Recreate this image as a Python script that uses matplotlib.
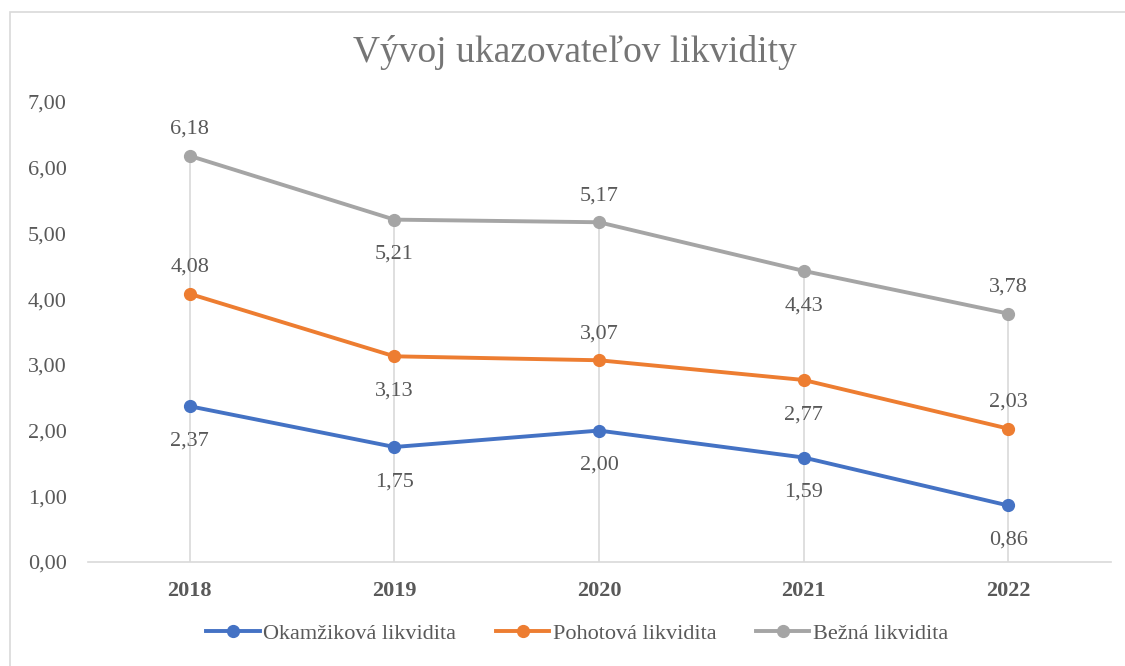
import matplotlib
matplotlib.use("Agg")
import matplotlib.pyplot as plt
from matplotlib.patches import Rectangle

years = ["2018", "2019", "2020", "2021", "2022"]
okamzikova = [2.37, 1.75, 2.00, 1.59, 0.86]
pohotova = [4.08, 3.13, 3.07, 2.77, 2.03]
bezna = [6.18, 5.21, 5.17, 4.43, 3.78]
series_names = ["Okamžiková likvidita", "Pohotová likvidita", "Bežná likvidita"]
y_ticks = [0, 1, 2, 3, 4, 5, 6, 7]

# label placement: +1 above, -1 below
pos_okam = [-1, -1, -1, -1, -1]
pos_poh = [1, -1, 1, -1, 1]
pos_bez = [1, -1, 1, -1, 1]

colors = ["#4472C4", "#ED7D31", "#A5A5A5"]
text_color = "#595959"
font = "Liberation Serif"

fig = plt.figure(figsize=(11.25, 6.66), dpi=100)
fig.patch.set_facecolor("white")
# chart border
fig.patches.append(Rectangle((10 / 1125, -0.1), 1.2, 1 - 12 / 666 + 0.1,
                             transform=fig.transFigure, fill=False,
                             edgecolor="#D9D9D9", linewidth=1.2))

ax = fig.add_axes([87.5 / 1125, 1 - 562 / 666, (1110.5 - 87.5) / 1125, (562 - 102) / 666])
x = list(range(len(years)))

# drop lines
for i in x:
    top = max(okamzikova[i], pohotova[i], bezna[i])
    ax.plot([i, i], [0, top], color="#D9D9D9", lw=1.2, zorder=1)

data = [okamzikova, pohotova, bezna]
positions = [pos_okam, pos_poh, pos_bez]
for vals, name, c, pos in zip(data, series_names, colors, positions):
    ax.plot(x, vals, color=c, lw=2.8, marker="o", markersize=8.5, label=name, zorder=3)
    for i, v in enumerate(vals):
        off = 19 if pos[i] > 0 else -25
        ax.annotate(f"{v:.2f}".replace(".", ","), (i, v), xytext=(0, off),
                    textcoords="offset points", ha="center", va="center",
                    fontsize=16, color=text_color, family=font)

ax.set_xlim(-0.5, 4.5)
ax.set_ylim(0, 7)
ax.set_yticks(y_ticks)
ax.set_yticklabels([f"{t:.2f}".replace(".", ",") for t in y_ticks],
                   fontsize=16, color=text_color, family=font)
ax.set_xticks(x)
ax.set_xticklabels(years, fontsize=16, fontweight="bold", color=text_color, family=font)
ax.tick_params(axis="both", length=0)
ax.tick_params(axis="y", pad=15)
ax.tick_params(axis="x", pad=14)
for s in ["top", "right", "left"]:
    ax.spines[s].set_visible(False)
ax.spines["bottom"].set_color("#D9D9D9")
ax.spines["bottom"].set_linewidth(1.2)
ax.patch.set_alpha(0)

fig.text(0.511, 1 - 52 / 666, "Vývoj ukazovateľov likvidity", ha="center", va="center",
         fontsize=27, color="#757575", family=font)

leg = fig.legend(loc="center", bbox_to_anchor=(0.513, 1 - 634 / 666), ncol=3, frameon=False,
                 prop={"family": font, "size": 16}, handlelength=2.4, handletextpad=0.15,
                 columnspacing=1.8)
for t in leg.get_texts():
    t.set_color(text_color)

fig.savefig("out.png", dpi=100, facecolor="white")
